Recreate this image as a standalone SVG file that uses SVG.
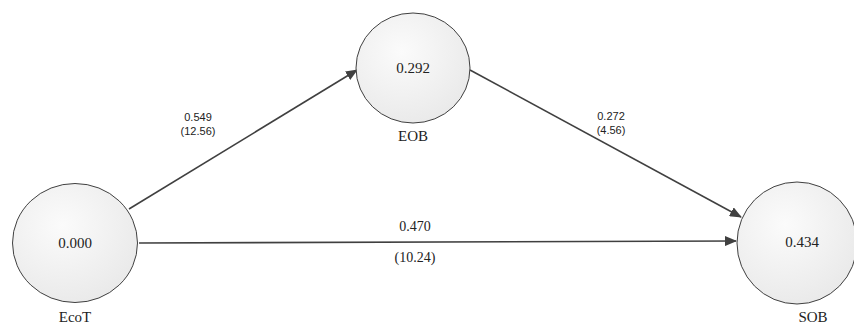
<svg xmlns="http://www.w3.org/2000/svg" width="854" height="324" viewBox="0 0 854 324">
<defs>
<radialGradient id="g" cx="0.4" cy="0.35" r="0.7">
<stop offset="0" stop-color="#fbfbfb"/>
<stop offset="1" stop-color="#e9e9e9"/>
</radialGradient>
<marker id="ah" markerWidth="12" markerHeight="10" refX="11" refY="5" orient="auto" markerUnits="userSpaceOnUse">
<path d="M0,0 L12,5 L0,10 Z" fill="#404040"/>
</marker>
</defs>
<style>
.n{fill:url(#g);stroke:#404040;stroke-width:1}
.v{font-family:"Liberation Serif",serif;font-size:15px;fill:#222;text-anchor:middle}
.l{font-family:"Liberation Serif",serif;font-size:15px;fill:#222;text-anchor:middle}
.e{stroke:#404040;stroke-width:1.6;fill:none;marker-end:url(#ah)}
.s{font-family:"Liberation Sans",sans-serif;font-size:11px;fill:#222;text-anchor:middle}
.p{font-family:"Liberation Serif",serif;font-size:14px;fill:#222;text-anchor:middle}
</style>
<rect width="854" height="324" fill="#fff"/>
<g id="connectors">
<line class="e" x1="129" y1="209" x2="357" y2="70"/>
<line class="e" x1="470" y1="70" x2="741" y2="217"/>
<line class="e" x1="139" y1="243" x2="736" y2="241"/>
<text class="s" x="198" y="121">0.549</text>
<text class="s" x="198" y="135">(12.56)</text>
<text class="s" x="611" y="120">0.272</text>
<text class="s" x="611" y="134">(4.56)</text>
<text class="p" x="415" y="231">0.470</text>
<text class="p" x="415" y="262">(10.24)</text>
</g>
<g id="EcoT">
<ellipse class="n" cx="75" cy="243" rx="62.5" ry="59.5"/>
<text class="v" x="75" y="248">0.000</text>
<text class="l" x="75" y="322">EcoT</text>
</g>
<g id="EOB">
<ellipse class="n" cx="413" cy="68" rx="57" ry="55"/>
<text class="v" x="413" y="73">0.292</text>
<text class="l" x="413" y="141">EOB</text>
</g>
<g id="SOB">
<ellipse class="n" cx="797" cy="243" rx="60" ry="61"/>
<text class="v" x="802" y="247">0.434</text>
<text class="l" x="813" y="322">SOB</text>
</g>
</svg>
